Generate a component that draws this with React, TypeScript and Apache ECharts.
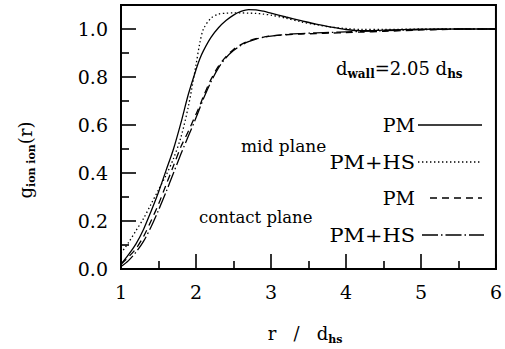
import React, { useEffect, useRef } from 'react';
import * as echarts from 'echarts';

// Radial distance in units of the hard-sphere diameter
const rValues = [1.0, 1.1, 1.2, 1.3, 1.4, 1.5, 1.6, 1.7, 1.8, 1.9, 2.0, 2.05, 2.1, 2.2, 2.3, 2.4, 2.5, 2.6, 2.7, 2.8, 2.9, 3.0, 3.2, 3.4, 3.6, 3.8, 4.0, 4.2, 4.5, 5.0, 5.5, 6.0];

// Mid plane, primitive model
const pmMid = [0.02, 0.06, 0.105, 0.165, 0.24, 0.32, 0.41, 0.5, 0.61, 0.73, 0.83, 0.875, 0.91, 0.965, 1.005, 1.035, 1.058, 1.073, 1.081, 1.08, 1.074, 1.066, 1.05, 1.035, 1.02, 1.008, 0.998, 0.993, 0.995, 0.999, 1.0, 1.0];
// Mid plane, primitive model + hard spheres
const pmhsMid = [0.065, 0.11, 0.16, 0.21, 0.27, 0.33, 0.39, 0.46, 0.55, 0.68, 0.85, 0.94, 1.0, 1.045, 1.062, 1.066, 1.067, 1.067, 1.066, 1.065, 1.062, 1.058, 1.045, 1.03, 1.018, 1.008, 1.002, 0.998, 0.998, 1.0, 1.0, 1.0];
// Contact plane, primitive model
const pmContact = [0.02, 0.05, 0.085, 0.135, 0.2, 0.27, 0.35, 0.43, 0.51, 0.575, 0.645, 0.68, 0.72, 0.79, 0.845, 0.885, 0.915, 0.935, 0.95, 0.96, 0.966, 0.971, 0.976, 0.979, 0.981, 0.983, 0.985, 0.987, 0.99, 0.996, 0.999, 1.0];
// Contact plane, primitive model + hard spheres
const pmhsContact = [0.01, 0.035, 0.07, 0.115, 0.175, 0.245, 0.32, 0.4, 0.48, 0.555, 0.63, 0.67, 0.71, 0.78, 0.838, 0.88, 0.91, 0.932, 0.947, 0.958, 0.965, 0.97, 0.977, 0.981, 0.984, 0.986, 0.988, 0.99, 0.993, 0.997, 1.0, 1.0];

const SERIF = 'DejaVu Serif';

const DOTTED = [1.4, 2.6];
const DASHED = [7, 5];
const DASH_DOT = [16, 3, 1.5, 3];

const pairs = (ys: number[]) => rValues.map((r, i) => [r, ys[i]]);

const sub = {
  m: { fontFamily: SERIF, fontSize: 18, lineHeight: 24, color: '#000' },
  s: { fontFamily: SERIF, fontSize: 11, fontWeight: 'bold', lineHeight: 12, verticalAlign: 'bottom', color: '#000' },
};

export default function App() {
  const ref = useRef<HTMLDivElement>(null);

  useEffect(() => {
    if (!ref.current) return;
    const chart = echarts.init(ref.current, undefined, { renderer: 'svg' });

    const line = (name: string, ys: number[], dash: any, width = 1.3) => ({
      type: 'line',
      name,
      data: pairs(ys),
      symbol: 'none',
      smooth: 0.3,
      lineStyle: { color: '#000', width, type: dash, cap: 'butt' },
    });

    const legendRow = (label: string, y: number, x1: number, x2: number, dash: any, scaleX = 1) => [
      {
        type: 'text',
        x: 415,
        y,
        scaleX,
        style: { text: label, fontFamily: SERIF, fontSize: 19, fill: '#000', align: 'right', verticalAlign: 'middle' },
      },
      {
        type: 'line',
        shape: { x1, y1: y, x2, y2: y },
        style: { stroke: '#000', lineWidth: 1.3, lineDash: dash === 'solid' ? null : dash },
      },
    ];

    chart.setOption({
      animation: false,
      grid: { left: 121, right: 7, top: 5, bottom: 80, show: true, borderColor: '#000', borderWidth: 2, backgroundColor: 'transparent' },
      xAxis: {
        type: 'value',
        min: 1,
        max: 6,
        interval: 1,
        axisLine: { lineStyle: { color: '#000', width: 2 } },
        axisTick: { inside: true, length: 15, lineStyle: { color: '#000', width: 1.6 } },
        minorTick: { show: true, splitNumber: 2, length: 8, lineStyle: { color: '#000', width: 1.6 } },
        splitLine: { show: false },
        axisLabel: { fontFamily: SERIF, fontSize: 19, color: '#000', margin: 13 },
      },
      yAxis: {
        type: 'value',
        min: 0,
        max: 1.1,
        interval: 0.2,
        axisLine: { lineStyle: { color: '#000', width: 2 } },
        axisTick: { inside: true, length: 15, lineStyle: { color: '#000', width: 1.6 } },
        minorTick: { show: true, splitNumber: 2, length: 8, lineStyle: { color: '#000', width: 1.6 } },
        splitLine: { show: false },
        axisLabel: {
          fontFamily: SERIF,
          fontSize: 19,
          color: '#000',
          margin: 13,
          showMaxLabel: false,
          formatter: (v: number) => (v > 1.05 ? '' : v.toFixed(1)),
        },
      },
      series: [
        line('PM mid plane', pmMid, 'solid'),
        line('PM+HS mid plane', pmhsMid, DOTTED),
        line('PM contact plane', pmContact, DASHED),
        line('PM+HS contact plane', pmhsContact, DASH_DOT),
      ],
      graphic: [
        {
          type: 'text',
          x: 336,
          y: 68,
          style: {
            text: '{m|d}{s|wall}{m|=2.05 d}{s|hs}',
            rich: { m: { ...sub.m, fontSize: 18 }, s: { ...sub.s, fontSize: 12 } },
            verticalAlign: 'middle',
          },
        },
        {
          type: 'text',
          x: 241,
          y: 146,
          style: { text: 'mid plane', fontFamily: SERIF, fontSize: 17, fill: '#000', verticalAlign: 'middle' },
        },
        {
          type: 'text',
          x: 199,
          y: 217,
          style: { text: 'contact plane', fontFamily: SERIF, fontSize: 16.5, fill: '#000', verticalAlign: 'middle' },
        },
        ...legendRow('PM', 125, 418, 482, 'solid'),
        ...legendRow('PM+HS', 162, 418, 482, DOTTED, 1.1),
        ...legendRow('PM', 198, 430, 482, DASHED),
        ...legendRow('PM+HS', 235, 422, 484, DASH_DOT, 1.1),
        {
          type: 'text',
          x: 305,
          y: 333,
          style: { text: '{m|r   /   d}{s|hs}', rich: sub, align: 'center', verticalAlign: 'middle' },
        },
        {
          type: 'text',
          x: 25,
          y: 160,
          rotation: Math.PI / 2,
          style: { text: '{m|g}{s|ion ion}{m|(r)}', rich: sub, align: 'center', verticalAlign: 'middle' },
        },
      ],
    });

    return () => chart.dispose();
  }, []);

  return <div ref={ref} style={{ position: 'fixed', left: 0, top: 0, width: 505, height: 349, background: '#fff' }} />;
}
